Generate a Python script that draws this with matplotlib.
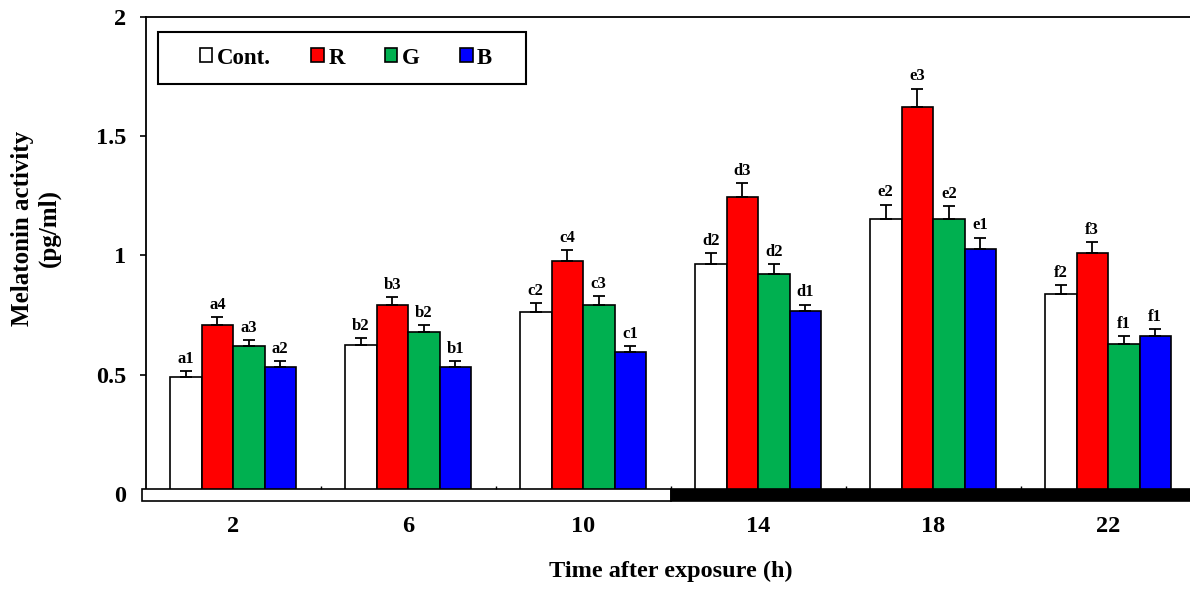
import numpy as np
import matplotlib
matplotlib.use("Agg")
import matplotlib.pyplot as plt
from matplotlib.patches import Patch, Rectangle

# ---------------------------------------------------------------------------
# Data
# ---------------------------------------------------------------------------

times = ["2", "6", "10", "14", "18", "22"]
groups = ["Cont.", "R", "G", "B"]
colors = ["#FFFFFF", "#FF0000", "#00B050", "#0000FF"]

cont = [0.490, 0.623, 0.763, 0.966, 1.153, 0.839]
red = [0.707, 0.792, 0.977, 1.243, 1.621, 1.009]
green = [0.622, 0.678, 0.792, 0.924, 1.152, 0.629]
blue = [0.532, 0.532, 0.595, 0.766, 1.027, 0.662]

cont_err = [0.025, 0.029, 0.038, 0.043, 0.060, 0.038]
red_err = [0.036, 0.035, 0.046, 0.060, 0.079, 0.047]
green_err = [0.024, 0.030, 0.038, 0.041, 0.056, 0.034]
blue_err = [0.025, 0.025, 0.025, 0.028, 0.048, 0.029]

letters = [
    ["a1", "b2", "c2", "d2", "e2", "f2"],
    ["a4", "b3", "c4", "d3", "e3", "f3"],
    ["a3", "b2", "c3", "d2", "e2", "f1"],
    ["a2", "b1", "c1", "d1", "e1", "f1"],
]

values = [cont, red, green, blue]
errors = [cont_err, red_err, green_err, blue_err]

# ---------------------------------------------------------------------------
# Plot
# ---------------------------------------------------------------------------

plt.rcParams["font.family"] = ["Liberation Serif", "DejaVu Serif"]
plt.rcParams["font.weight"] = "bold"

W, H = 1190, 592
fig = plt.figure(figsize=(W / 100, H / 100), dpi=100)
ax = fig.add_axes([145.5 / W, (H - 501) / H, 1050 / W, 484 / H])

x = np.arange(len(times))
width = 0.18
strip_top = 0.02

for i, (vals, errs, col) in enumerate(zip(values, errors, colors)):
    pos = x + (i - 1.5) * width
    ax.bar(pos, vals, width, color=col, edgecolor="black", linewidth=1.2,
           zorder=2)
    ax.errorbar(pos, vals, yerr=[np.zeros(len(errs)), errs], fmt="none",
                ecolor="black", elinewidth=1.3, capsize=4, capthick=1.3,
                zorder=3)
    for p, v, e, lab in zip(pos, vals, errs, letters[i]):
        ax.annotate(lab, (p, v + e), xytext=(0, 3), textcoords="offset points",
                    ha="center", va="bottom", fontsize=12, fontweight="bold")

# light / dark strip along the bottom
ax.add_patch(Rectangle((-0.52, -0.03), 3.02, 0.03 + strip_top,
                       facecolor="white", edgecolor="black", linewidth=1.2,
                       zorder=4, clip_on=False))
ax.add_patch(Rectangle((2.5, -0.03), 3.2, 0.03 + strip_top,
                       facecolor="black", edgecolor="black", linewidth=1.2,
                       zorder=4, clip_on=False))
ax.vlines(x[:-1] + 0.5, strip_top, strip_top + 0.012, color="black",
          linewidth=1, zorder=4)

ax.set_xlim(-0.5, 5.5)
ax.set_ylim(-0.03, 2.0)
ax.spines["bottom"].set_visible(False)
ax.spines["left"].set_bounds(strip_top, 2.0)
for s in ["left", "top", "right"]:
    ax.spines[s].set_linewidth(1.3)

ax.set_yticks([0, 0.5, 1, 1.5, 2])
ax.set_yticklabels(["0", "0.5", "1", "1.5", "2"])
ax.yaxis.get_major_ticks()[0].tick1line.set_visible(False)
ax.tick_params(axis="y", direction="out", length=4, width=1.2, pad=10,
               labelsize=17.5)
ax.set_xticks(x)
ax.set_xticklabels(times)
ax.tick_params(axis="x", length=0, pad=11, labelsize=17.5)

ax.set_xlabel("Time after exposure (h)", fontsize=17.5, fontweight="bold",
              labelpad=17)
fig.text(36 / W, 1 - 228 / H, "Melatonin activity\n(pg/ml)", rotation=90,
         ha="center", va="center", multialignment="center", fontsize=18,
         fontweight="bold", linespacing=1.15)

# legend with a square frame
handles = [Patch(facecolor=c, edgecolor="black", linewidth=1.2) for c in colors]
fig.legend(handles, groups, ncol=4, frameon=False, loc="center",
           bbox_to_anchor=(346 / W, 1 - 58 / H), fontsize=16.5,
           handlelength=0.55, handleheight=0.55, handletextpad=0.2,
           columnspacing=1.75, borderpad=0)
fig.add_artist(Rectangle((158 / W, 1 - 84 / H), 368 / W, 52 / H,
                         transform=fig.transFigure, facecolor="none",
                         edgecolor="black", linewidth=1.5))

fig.savefig("out.png", dpi=100)
